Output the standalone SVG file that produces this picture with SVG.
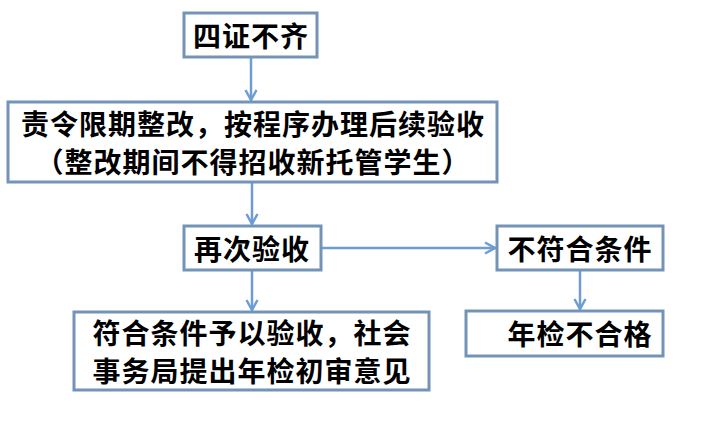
<svg xmlns="http://www.w3.org/2000/svg" width="703" height="448" viewBox="0 0 703 448">
<style>
.box{fill:#ffffff;stroke:#7393b7;stroke-width:3}
.t{font-family:"Noto Sans CJK SC","Noto Sans CJK JP",sans-serif;font-weight:bold;font-size:28px;fill:#000;text-anchor:middle;dominant-baseline:central;letter-spacing:1px}
.c{fill:none;stroke:#6e9dd3;stroke-width:2.5}
</style>
<defs>
<marker id="ah" viewBox="0 0 12 14" refX="11" refY="7" markerWidth="12" markerHeight="14" markerUnits="userSpaceOnUse" orient="auto">
<path d="M1,1.5 L11,7 L1,12.5" fill="none" stroke="#6e9dd3" stroke-width="2.5"/>
</marker>
</defs>
<rect width="703" height="448" fill="#ffffff"/>
<g id="connectors">
<line class="c" x1="251" y1="57" x2="251" y2="100" marker-end="url(#ah)"/>
<line class="c" x1="252" y1="183" x2="252" y2="224" marker-end="url(#ah)"/>
<line class="c" x1="321" y1="248" x2="495" y2="248" marker-end="url(#ah)"/>
<line class="c" x1="252" y1="270" x2="252" y2="310" marker-end="url(#ah)"/>
<line class="c" x1="580" y1="270" x2="580" y2="309" marker-end="url(#ah)"/>
</g>
<g id="n1">
<rect class="box" x="184" y="13" width="133" height="44"/>
<text class="t" x="251" y="35">四证不齐</text>
</g>
<g id="n2">
<rect class="box" x="8" y="102" width="489" height="80"/>
<text class="t" x="253" y="123">责令限期整改，按程序办理后续验收</text>
<text class="t" x="253" y="161">（整改期间不得招收新托管学生）</text>
</g>
<g id="n3">
<rect class="box" x="184" y="226" width="137" height="44"/>
<text class="t" x="252" y="248">再次验收</text>
</g>
<g id="n4">
<rect class="box" x="497" y="226" width="166" height="44"/>
<text class="t" x="580" y="248">不符合条件</text>
</g>
<g id="n5">
<rect class="box" x="74" y="312" width="355" height="78"/>
<text class="t" x="252" y="332">符合条件予以验收，社会</text>
<text class="t" x="252" y="370">事务局提出年检初审意见</text>
</g>
<g id="n6">
<rect class="box" x="466" y="311" width="197" height="45"/>
<text class="t" x="580" y="333">年检不合格</text>
</g>
</svg>
